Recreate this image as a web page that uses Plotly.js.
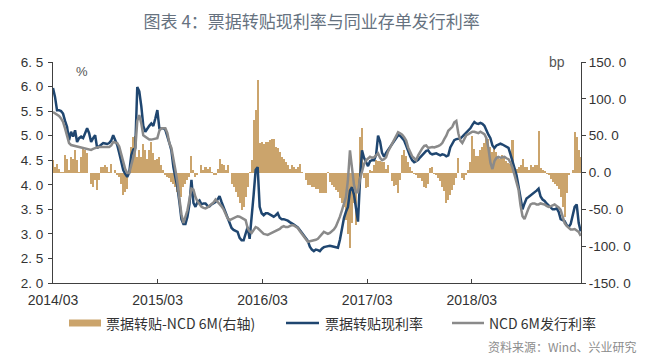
<!DOCTYPE html>
<html>
<head>
<meta charset="utf-8">
<script src="https://cdn.plot.ly/plotly-3.0.1.min.js"></script>
<style>html,body{margin:0;padding:0;background:#fff;}#chart{width:666px;height:358px;}</style>
</head>
<body>
<div id="chart"></div>
<script>
// weekly observations starting from this date
const startDate = '2014-03-01';

// 票据转贴现利率 (%)
const discountRate = [
5.97,5.79,5.52,5.52,5.50,5.45,5.30,5.18,4.91,5.08,
4.98,5.11,4.87,4.95,4.98,4.95,5.05,5.15,5.05,4.87,
4.95,5.01,4.75,4.78,4.82,4.85,4.84,4.83,4.85,4.90,
5.01,4.90,4.81,4.65,4.48,4.30,4.22,4.16,4.25,4.60,
4.72,4.75,5.99,5.90,5.60,5.20,5.08,5.15,5.20,5.25,
5.20,5.35,5.52,5.15,5.15,5.15,5.12,5.00,4.85,4.70,
4.36,4.15,3.95,3.65,3.30,3.20,3.20,3.35,3.60,4.10,
3.63,3.55,3.65,3.68,3.60,3.62,3.62,3.57,3.56,3.60,
3.62,3.65,3.70,3.77,3.65,3.55,3.42,3.35,3.22,3.12,
3.08,3.06,3.04,2.92,2.87,2.87,3.00,3.14,2.90,3.30,
3.80,4.30,4.36,3.55,3.42,3.38,3.42,3.42,3.40,3.38,
3.35,3.38,3.42,3.33,3.30,3.30,3.29,3.27,3.24,3.22,
3.19,3.16,3.13,3.08,3.03,2.98,2.92,2.86,2.74,2.68,
2.65,2.68,2.67,2.65,2.70,2.73,2.74,2.75,2.76,2.75,
2.74,2.72,2.72,2.88,3.10,3.32,3.45,3.55,3.88,3.95,
3.80,3.55,3.25,4.10,4.70,4.55,4.45,4.38,4.48,4.50,
4.50,4.60,5.00,4.88,4.65,4.57,4.65,4.71,4.76,4.82,
4.88,4.95,5.01,5.00,4.96,4.90,4.80,4.68,4.58,4.50,
4.46,4.48,4.51,4.56,4.60,4.65,4.69,4.70,4.64,4.62,
4.63,4.64,4.62,4.60,4.62,4.61,4.58,4.60,4.76,4.85,
4.91,4.93,4.93,4.94,4.98,5.02,5.05,5.09,5.15,5.22,
5.28,5.25,5.24,5.26,5.24,5.20,5.10,5.02,4.95,4.80,
4.75,4.80,4.82,4.84,4.82,4.80,4.78,4.75,4.62,4.48,
4.30,4.20,3.97,3.70,3.50,3.62,3.72,3.75,3.78,3.82,
3.85,3.88,3.92,3.76,3.70,3.67,3.62,3.58,3.55,3.50,
3.50,3.52,3.45,3.30,3.28,3.26,3.18,3.14,3.20,3.40,
3.55,3.60,3.22,3.05
];

// NCD 6M发行利率 (%)
const ncdRate = [
5.48,5.45,5.42,5.40,5.35,5.28,5.15,5.02,4.85,4.81,
4.80,4.79,4.78,4.78,4.77,4.75,4.74,4.73,4.72,4.71,
4.73,4.75,4.76,4.77,4.77,4.76,4.76,4.76,4.77,4.80,
4.87,4.86,4.85,4.78,4.62,4.44,4.32,4.24,4.24,4.40,
4.57,4.72,5.30,5.42,5.25,5.01,4.98,4.95,4.92,4.92,
4.93,4.95,4.95,5.10,5.15,5.15,5.15,5.05,4.85,4.75,
4.55,4.30,4.05,3.75,3.40,3.22,3.34,3.48,3.70,3.92,
3.90,3.75,3.66,3.60,3.55,3.53,3.52,3.54,3.57,3.60,
3.64,3.70,3.66,3.60,3.56,3.50,3.42,3.32,3.28,3.30,
3.32,3.34,3.36,3.35,3.33,3.31,3.28,3.12,3.05,3.02,
3.08,3.14,3.12,3.08,3.04,3.00,2.99,2.98,3.00,3.02,
3.03,3.05,3.07,3.10,3.14,3.16,3.14,3.14,3.16,3.18,
3.17,3.15,3.12,3.06,3.00,2.95,2.88,2.84,2.85,2.86,
2.86,2.88,2.90,2.95,3.00,3.04,3.02,3.00,3.02,3.05,
3.09,3.15,3.24,3.35,3.48,3.60,3.75,4.10,4.70,4.35,
4.00,3.85,3.85,4.12,4.30,4.42,4.50,4.54,4.57,4.55,
4.56,4.60,4.64,4.55,4.50,4.52,4.56,4.68,4.76,4.84,
4.90,4.99,5.07,5.05,5.02,4.97,4.90,4.76,4.66,4.58,
4.54,4.50,4.60,4.68,4.74,4.79,4.80,4.75,4.76,4.77,
4.76,4.77,4.79,4.81,4.85,4.93,5.00,5.10,5.15,5.18,
5.27,5.30,5.05,4.90,4.85,4.95,5.01,5.03,5.05,5.08,
5.08,5.06,5.05,5.08,5.06,5.03,4.95,4.75,4.45,4.32,
4.48,4.55,4.57,4.55,4.56,4.57,4.54,4.52,4.45,4.35,
4.20,4.05,3.90,3.58,3.36,3.30,3.42,3.52,3.60,3.62,
3.62,3.60,3.60,3.62,3.61,3.60,3.57,3.55,3.56,3.58,
3.60,3.57,3.54,3.49,3.35,3.22,3.16,3.13,3.09,3.09,
3.10,3.07,3.04,2.96
];

// 票据转贴-NCD 6M (bp, 右轴)
const spreadBp = [
17,8,12,5,1,1,24,19,3,21,
19,30,17,1,21,33,30,26,-1,-15,
-19,-10,-24,-10,8,8,10,8,1,12,
-1,3,-4,-6,-15,-31,-26,-22,-1,35,
48,50,21,30,21,39,30,19,30,42,
26,17,19,21,10,3,-4,-6,-8,-13,
-15,-19,-26,-28,-33,-19,-15,-10,-6,23,
3,-6,-4,-1,10,3,8,5,8,1,
-4,-4,5,19,12,10,3,10,-1,-15,
-19,-26,-33,-42,-51,-47,-33,-19,1,17,
71,85,125,40,41,39,42,42,44,46,
46,35,33,28,21,19,14,10,5,10,
8,5,8,12,1,-1,-10,-17,-17,-19,
-19,-22,-22,-28,-28,-28,-28,1,-13,-17,
-19,-24,-26,-35,-42,-47,-65,-83,-103,-69,
-42,-71,-28,48,60,-8,-21,-20,3,2,
10,17,16,16,14,14,5,10,0,-12,
-18,-17,-28,-10,24,30,22,14,7,2,
-2,-4,-7,-8,-12,-19,-21,-15,6,7,
-2,-4,-8,-12,-20,-25,-42,-38,-31,-24,
-17,-8,20,-1,-8,-10,-3,3,14,50,
32,22,22,30,35,40,48,45,34,28,
33,28,21,19,24,20,16,13,12,44,
6,5,7,10,18,8,8,4,10,8,
10,10,57,6,3,2,-2,-4,-9,-13,
-16,-18,-23,-33,-47,-60,-28,-4,-1,3,
55,48,30,21
];

// axis ticks
const xTickVals = ['2014-03-01','2015-03-01','2016-03-01','2017-03-01','2018-03-01'];
const xTickText = ['2014/03','2015/03','2016/03','2017/03','2018/03'];
const leftTickVals = [2.0,2.5,3.0,3.5,4.0,4.5,5.0,5.5,6.0,6.5];
const leftTickText = ['2. 0','2. 5','3. 0','3. 5','4. 0','4. 5','5. 0','5. 5','6. 0','6. 5'];
const rightTickVals = [-150,-100,-50,0,50,100,150];
const rightTickText = ['-150. 0','-100. 0','-50. 0','0. 0','50. 0','100. 0','150. 0'];

const seriesNames = ['票据转贴-NCD 6M(右轴)','票据转贴现利率','NCD 6M发行利率'];

// weekly dates
const dates = [];
(function(){
  const t0 = Date.parse(startDate + 'T00:00:00Z');
  for (let i = 0; i < spreadBp.length; i++) {
    dates.push(new Date(t0 + i * 7 * 86400000).toISOString().slice(0, 10));
  }
})();

const colBar = '#CBA46C', colBlue = '#1F4670', colGray = '#8A8A8A';
const axisCol = '#404040';
const tickFont = {family: 'Liberation Sans, Arial, sans-serif', size: 14, color: '#333333'};
const yTickFont = {family: 'Liberation Sans, Arial, sans-serif', size: 13.5, color: '#333333'};

const traces = [
  {type: 'bar', x: dates, y: spreadBp, name: seriesNames[0], yaxis: 'y',
   marker: {color: colBar, line: {width: 0}}, hoverinfo: 'skip'},
  {type: 'scatter', mode: 'lines', x: dates, y: discountRate, name: seriesNames[1], yaxis: 'y2',
   line: {color: colBlue, width: 2.5}},
  {type: 'scatter', mode: 'lines', x: dates, y: ncdRate, name: seriesNames[2], yaxis: 'y2',
   line: {color: colGray, width: 2.5}}
];

// plot area in pixels: left 53, right 581, top 62, bottom 283
const L = 53, R = 581, T = 62, B = 283;
const px = v => (v - L) / (R - L);
const py = v => (B - v) / (B - T);
const legY = 323;

const layout = {
  width: 666, height: 358,
  margin: {l: L, r: 666 - R, t: T, b: 358 - B, pad: 0},
  paper_bgcolor: '#ffffff', plot_bgcolor: '#ffffff',
  showlegend: false,
  bargap: 0,
  title: {text: '图表 4：票据转贴现利率与同业存单发行利率',
          font: {family: 'Noto Sans CJK SC', size: 17, color: '#66727F'},
          x: 0.49, xanchor: 'center', y: 1 - 22 / 358, yanchor: 'middle', yref: 'container', xref: 'paper'},
  xaxis: {type: 'date', range: ['2014-03-01', '2019-03-17'],
          tickvals: xTickVals, ticktext: xTickText, tickfont: tickFont,
          showline: true, linecolor: axisCol, linewidth: 1,
          ticks: 'inside', ticklen: 4, tickcolor: axisCol, ticklabelstandoff: 4,
          showgrid: false, zeroline: false, fixedrange: true},
  yaxis: {side: 'right', range: [-150, 150], tickvals: rightTickVals, ticktext: rightTickText,
          tickfont: yTickFont, showline: true, linecolor: axisCol, linewidth: 1,
          ticks: 'outside', ticklen: 4, tickcolor: axisCol,
          showgrid: false, zeroline: false, fixedrange: true},
  yaxis2: {side: 'left', overlaying: 'y', range: [2, 6.5], tickvals: leftTickVals, ticktext: leftTickText,
           tickfont: yTickFont, showline: true, linecolor: axisCol, linewidth: 1,
           ticks: 'outside', ticklen: 4, tickcolor: axisCol, ticklabelstandoff: 2,
           showgrid: false, zeroline: false, fixedrange: true},
  shapes: [
    {type: 'rect', xref: 'paper', yref: 'paper', x0: px(69), x1: px(101), y0: py(326.5), y1: py(319.5),
     fillcolor: colBar, line: {width: 0}},
    {type: 'line', xref: 'paper', yref: 'paper', x0: px(286), x1: px(319), y0: py(legY), y1: py(legY),
     line: {color: colBlue, width: 2.5}},
    {type: 'line', xref: 'paper', yref: 'paper', x0: px(452), x1: px(484), y0: py(legY), y1: py(legY),
     line: {color: colGray, width: 2.5}}
  ],
  annotations: [
    {xref: 'paper', yref: 'paper', x: px(82), y: py(72), text: '%', showarrow: false,
     xanchor: 'center', yanchor: 'middle', font: {family: 'Liberation Sans, Arial', size: 13, color: '#555555'}},
    {xref: 'paper', yref: 'paper', x: px(557), y: py(62), text: 'bp', showarrow: false,
     xanchor: 'center', yanchor: 'middle', font: {family: 'Liberation Sans, Arial', size: 14, color: '#555555'}},
    {xref: 'paper', yref: 'paper', x: px(104), y: py(legY), text: seriesNames[0], showarrow: false,
     xanchor: 'left', yanchor: 'middle', font: {family: 'Noto Sans CJK SC', size: 14, color: '#333333'}},
    {xref: 'paper', yref: 'paper', x: px(323), y: py(legY), text: seriesNames[1], showarrow: false,
     xanchor: 'left', yanchor: 'middle', font: {family: 'Noto Sans CJK SC', size: 14, color: '#333333'}},
    {xref: 'paper', yref: 'paper', x: px(487), y: py(legY), text: seriesNames[2], showarrow: false,
     xanchor: 'left', yanchor: 'middle', font: {family: 'Noto Sans CJK SC', size: 14, color: '#333333'}},
    {xref: 'paper', yref: 'paper', x: px(639), y: py(346), text: '资料来源：Wind、兴业研究', showarrow: false,
     xanchor: 'right', yanchor: 'middle', font: {family: 'Noto Sans CJK SC', size: 12, color: '#8C8C8C'}}
  ]
};

Plotly.newPlot('chart', traces, layout, {staticPlot: true, displayModeBar: false});
</script>
</body>
</html>
